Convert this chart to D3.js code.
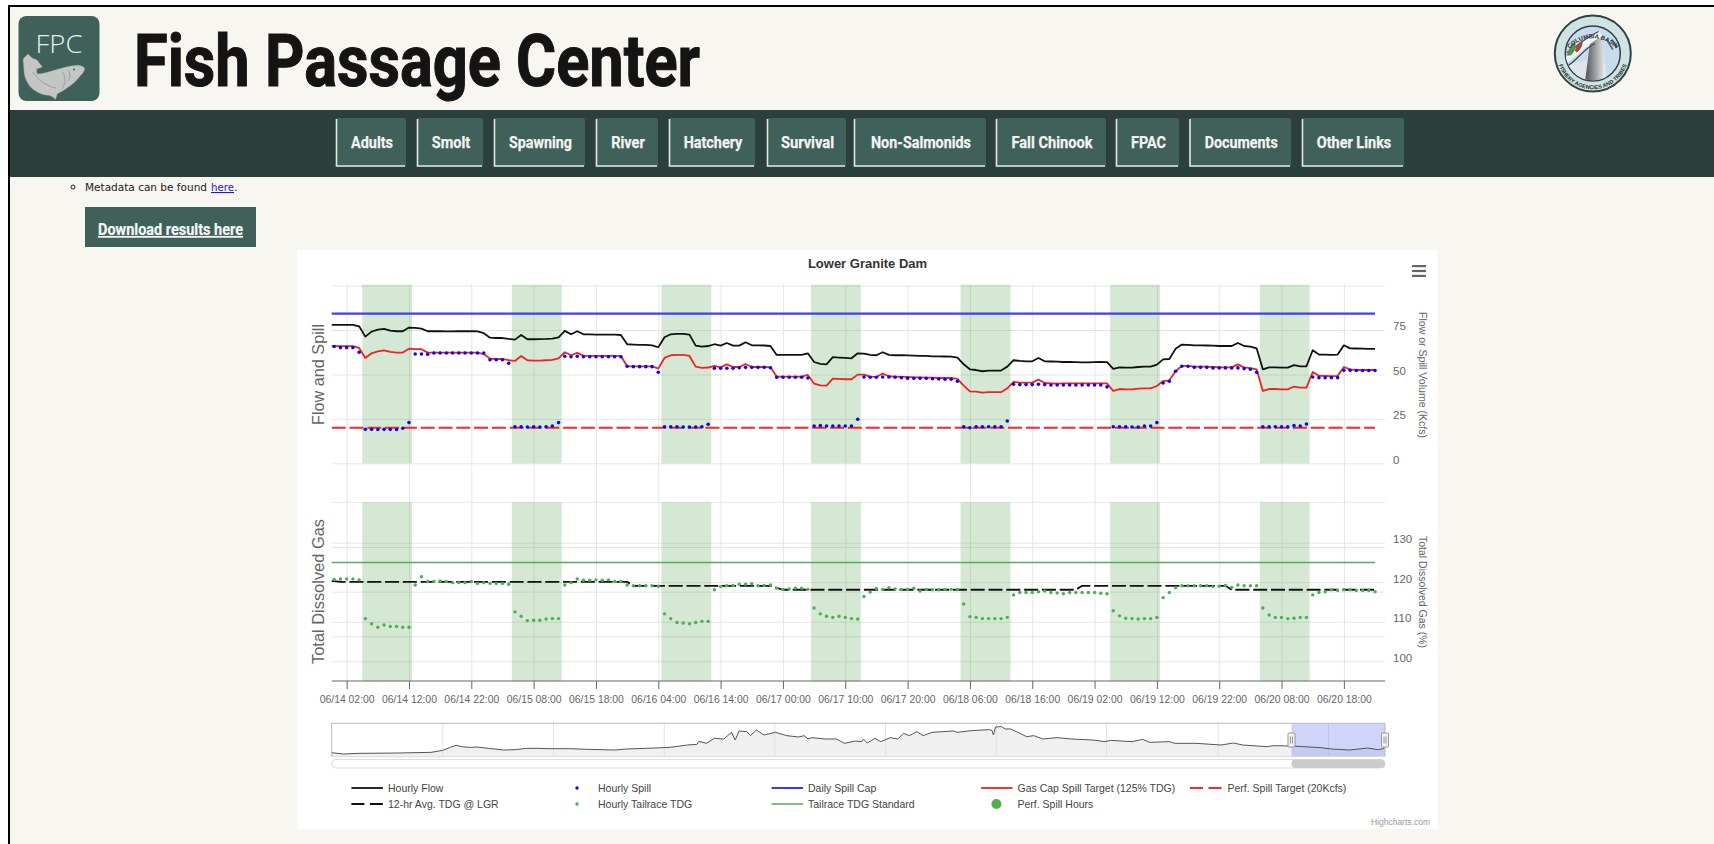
<!DOCTYPE html>
<html>

<head>
  <meta charset="utf-8">
  <title>Fish Passage Center - Lower Granite Dam</title>
  <style>
    html, body { margin: 0; padding: 0; background: #fff; overflow: hidden; }
    svg { display: block; }
    .axis .domain { display: none; }
  </style>
</head>

<body>
  <svg id="page" width="1714" height="844"></svg>
  <script src="https://d3js.org/d3.v7.min.js"></script>
  <script>
    // 1. data. Hourly series start at 06/14 00:00
    var chartTitle = "Lower Granite Dam";

    var hourlyFlow = [
      77.9, 77.9, 77.9, 77.9, 77.1, 71.3, 74.1, 75.2, 75.6, 74.7, 74.3, 74.3,
      76.4, 76.2, 75.8, 74.3, 74.3, 74.3, 74.2, 74.2, 74.3, 74.3, 74.3, 74.2,
      73.2, 70.7, 70.5, 70.5, 70.0, 69.6, 72.2, 69.8, 69.8, 69.9, 70.0, 70.2,
      70.9, 74.5, 72.6, 74.3, 72.6, 72.6, 72.4, 72.4, 72.4, 72.4, 72.2, 67.0,
      66.8, 66.6, 66.6, 66.4, 65.3, 70.9, 72.6, 72.8, 72.8, 72.4, 66.2, 65.7,
      66.0, 67.0, 66.2, 67.7, 66.2, 66.2, 68.1, 66.4, 66.4, 66.3, 66.0, 61.0,
      61.0, 61.0, 61.0, 61.0, 61.9, 57.0, 55.9, 55.7, 59.7, 59.5, 59.3, 59.1,
      61.9, 61.7, 61.0, 60.8, 62.5, 61.0, 60.8, 60.8, 60.7, 60.6, 60.5, 60.4,
      60.2, 60.2, 60.1, 60.0, 59.5, 55.7, 52.9, 52.5, 51.8, 52.2, 52.2, 52.2,
      54.4, 58.0, 57.6, 57.4, 57.4, 59.3, 57.4, 57.3, 57.2, 57.0, 57.0, 56.9,
      56.8, 56.8, 56.9, 57.0, 56.9, 53.1, 54.0, 53.8, 53.8, 54.2, 54.4, 54.4,
      55.5, 58.5, 58.7, 64.4, 66.8, 66.6, 66.4, 66.4, 66.3, 66.2, 66.0, 66.0,
      66.0, 67.7, 66.0, 65.7, 64.7, 52.9, 54.0, 54.0, 53.8, 53.8, 55.2, 54.6,
      54.6, 63.6, 61.2, 61.2, 61.0, 61.2, 66.4, 64.7, 64.6, 64.5, 64.4, 64.4
    ];

    var gasCapTarget = [
      65.9, 65.9, 65.9, 65.9, 64.9, 59.3, 61.9, 63.0, 63.6, 62.7, 62.3, 62.3,
      64.5, 64.3, 64.2, 62.3, 62.3, 62.3, 62.3, 62.3, 62.3, 62.3, 62.3, 62.3,
      61.5, 58.9, 58.7, 58.7, 58.0, 57.6, 60.4, 58.0, 57.8, 57.8, 58.0, 58.2,
      59.1, 62.5, 60.8, 62.1, 60.6, 60.4, 60.4, 60.4, 60.4, 60.4, 60.4, 54.6,
      54.6, 54.6, 54.6, 54.6, 53.3, 59.3, 60.8, 61.0, 61.0, 60.4, 54.4, 53.7,
      53.9, 54.8, 54.0, 55.7, 54.2, 54.2, 55.9, 54.2, 54.2, 54.2, 54.0, 48.8,
      48.8, 48.8, 48.8, 48.8, 49.7, 44.8, 43.9, 43.7, 47.7, 47.5, 47.3, 47.3,
      49.9, 49.9, 48.8, 48.6, 50.5, 49.0, 48.8, 48.6, 48.6, 48.4, 48.4, 48.2,
      48.2, 48.0, 48.0, 48.0, 47.5, 43.7, 40.5, 40.3, 39.8, 40.0, 40.0, 40.0,
      42.2, 45.8, 45.4, 45.4, 45.4, 47.1, 45.2, 45.0, 44.8, 45.0, 45.0, 45.0,
      45.0, 45.0, 45.0, 45.0, 45.0, 40.7, 41.8, 41.6, 41.6, 42.0, 42.2, 42.2,
      43.5, 46.3, 46.7, 51.8, 54.8, 54.8, 54.4, 54.4, 54.4, 54.2, 54.0, 54.0,
      54.0, 55.7, 54.0, 53.6, 52.9, 40.7, 41.8, 41.8, 41.6, 41.6, 43.2, 42.6,
      42.6, 51.4, 49.2, 49.2, 49.0, 49.2, 54.2, 52.9, 52.5, 52.5, 52.5, 52.5
    ];

    var hourlySpill = [
      65.7, 65.1, 65.1, 65.1, 62.5, 19.1, 19.1, 19.0, 19.1, 19.1, 19.0, 19.7,
      22.9, 61.5, 61.5, 61.3, 62.1, 62.1, 62.1, 62.1, 62.1, 62.1, 62.1, 62.1,
      62.1, 58.3, 58.3, 58.3, 56.3, 20.6, 20.6, 20.4, 20.6, 20.4, 20.6, 21.0,
      22.9, 60.2, 60.0, 60.2, 60.0, 60.0, 60.0, 60.0, 60.0, 60.0, 60.0, 54.6,
      54.4, 54.4, 54.4, 54.4, 51.2, 20.6, 20.6, 20.6, 20.4, 20.4, 20.4, 20.6,
      22.0, 53.5, 53.5, 53.5, 53.5, 53.8, 54.0, 54.0, 54.0, 54.0, 53.8, 48.4,
      48.4, 48.4, 48.4, 48.4, 48.0, 21.0, 21.2, 21.0, 21.0, 21.0, 21.0, 21.0,
      24.8, 48.6, 48.4, 48.4, 48.6, 48.6, 48.4, 48.2, 47.8, 47.8, 47.8, 47.8,
      47.6, 47.4, 47.3, 47.3, 46.2, 20.6, 20.0, 20.6, 20.6, 20.6, 20.6, 20.6,
      23.8, 44.5, 44.3, 44.3, 44.3, 44.5, 44.3, 44.1, 44.1, 44.1, 44.1, 44.1,
      44.1, 44.1, 44.1, 44.1, 43.0, 20.6, 20.6, 20.6, 20.4, 20.4, 21.0, 21.0,
      22.9, 45.2, 46.2, 51.8, 54.6, 54.6, 54.0, 54.0, 54.0, 53.7, 53.7, 53.7,
      53.7, 53.7, 53.3, 52.9, 51.2, 20.6, 20.6, 20.6, 20.6, 20.6, 21.2, 21.0,
      22.1, 48.6, 48.2, 48.2, 48.2, 48.2, 52.3, 52.3, 52.2, 52.2, 52.2, 52.2
    ];

    var tailraceTdg = [
      120.7, 120.8, 120.8, 120.8, 120.6, 110.8, 109.5, 108.6, 109.2, 108.8, 108.8, 108.6,
      108.6, 119.3, 121.4, 120.2, 120.2, 120.3, 120.2, 119.9, 119.9, 119.9, 120.2, 119.7,
      119.9, 119.7, 119.7, 119.7, 119.5, 112.5, 111.4, 110.3, 110.4, 110.4, 110.7, 110.8,
      110.8, 119.3, 119.9, 120.8, 120.5, 120.5, 120.6, 120.5, 120.6, 120.2, 120.2, 119.3,
      119.1, 119.1, 119.1, 119.1, 119.0, 112.0, 110.8, 109.8, 109.7, 109.5, 109.8, 110.1,
      110.1, 118.1, 118.9, 119.1, 119.2, 119.5, 119.5, 119.6, 119.1, 119.2, 119.3, 118.5,
      118.2, 118.3, 118.5, 118.5, 118.2, 113.5, 112.0, 111.4, 111.1, 111.4, 111.1, 110.8,
      110.7, 116.4, 117.5, 118.4, 118.2, 118.6, 118.3, 118.2, 118.2, 118.5, 117.8, 118.2,
      118.1, 118.1, 118.2, 118.2, 118.2, 114.5, 111.3, 111.1, 110.8, 110.8, 110.8, 110.8,
      111.1, 116.8, 117.4, 117.4, 117.4, 117.6, 117.8, 117.4, 117.3, 117.1, 117.4, 117.4,
      117.4, 117.4, 117.4, 117.2, 117.1, 112.8, 111.5, 110.9, 110.8, 110.7, 110.8, 110.8,
      111.1, 116.1, 117.4, 118.6, 119.1, 119.1, 119.1, 119.1, 119.1, 118.9, 119.0, 119.2,
      118.7, 119.3, 119.1, 119.1, 119.1, 113.5, 111.7, 111.1, 111.1, 110.8, 110.9, 111.1,
      111.1, 116.8, 117.4, 117.6, 118.1, 117.9, 118.1, 118.1, 117.9, 117.9, 117.9, 117.6
    ];

    var avgTdg12hr = [
      120.3, 120.1, 120.1, 120.1, 120.1, 120.1, 120.1, 120.1, 120.1, 120.1, 120.1, 120.1,
      120.1, 120.1, 120.1, 120.1, 120.1, 120.1, 120.1, 120.1, 120.1, 120.1, 120.1, 120.1,
      120.1, 120.1, 120.1, 120.1, 120.1, 120.1, 120.1, 120.1, 120.1, 120.1, 120.1, 120.1,
      120.1, 120.1, 120.1, 120.1, 120.1, 120.1, 120.1, 120.1, 120.1, 120.1, 120.1, 120.1,
      119.1, 119.1, 119.1, 119.1, 119.1, 119.1, 119.1, 119.1, 119.1, 119.1, 119.1, 119.1,
      119.1, 119.1, 119.1, 119.1, 119.1, 119.1, 119.1, 119.1, 119.1, 119.1, 119.1, 118.6,
      118.1, 118.1, 118.1, 118.1, 118.1, 118.1, 118.1, 118.1, 118.1, 118.1, 118.1, 118.1,
      118.1, 118.1, 118.1, 118.1, 118.1, 118.1, 118.1, 118.1, 118.1, 118.1, 118.1, 118.1,
      118.1, 118.1, 118.1, 118.1, 118.1, 118.1, 118.1, 118.1, 118.1, 118.1, 118.1, 118.1,
      118.1, 118.1, 118.1, 118.1, 118.1, 118.1, 118.1, 118.1, 118.1, 118.1, 118.1, 118.1,
      119.1, 119.1, 119.1, 119.1, 119.1, 119.1, 119.1, 119.1, 119.1, 119.1, 119.1, 119.1,
      119.1, 119.1, 119.1, 119.1, 119.1, 119.1, 119.1, 119.1, 119.1, 119.1, 119.1, 119.1,
      118.1, 118.1, 118.1, 118.1, 118.1, 118.1, 118.1, 118.1, 118.1, 118.1, 118.1, 118.1,
      118.1, 118.1, 118.1, 118.1, 118.1, 118.1, 118.1, 118.1, 118.1, 118.1, 118.1, 118.1
    ];

    var dailySpillCap = 84.2;
    var perfSpillTarget = 20;
    var tdgStandard = 125;

    // perf. spill windows, in hours since 06/14 00:00
    var perfStart = [4.5, 28.5, 52.5, 76.5, 100.5, 124.5, 148.5];
    var perfEnd = [12.5, 36.5, 60.5, 84.5, 108.5, 132.5, 156.5];

    var xTickHours = [2, 12, 22, 32, 42, 52, 62, 72, 82, 92, 102, 112, 122, 132, 142, 152, 162];
    var xTickLabels = ["06/14 02:00", "06/14 12:00", "06/14 22:00", "06/15 08:00", "06/15 18:00",
      "06/16 04:00", "06/16 14:00", "06/17 00:00", "06/17 10:00", "06/17 20:00", "06/18 06:00",
      "06/18 16:00", "06/19 02:00", "06/19 12:00", "06/19 22:00", "06/20 08:00", "06/20 18:00"];

    // navigator: season long flow (days since season start, flow)
    var navDays = [0, 0.86, 2.02, 4.9, 7.49, 8.35, 8.93, 9.36, 9.94, 10.51, 10.94, 11.81, 12.96, 13.82,
      14.69, 15.55, 16.42, 17.85, 19.3, 21.31, 22.18, 23.62, 25.49, 26.78, 27.5, 27.65, 28.22, 28.8,
      29.52, 30.1, 30.38, 30.67, 31.25, 31.53, 31.97, 32.54, 33.41, 34.27, 35.14, 35.57, 35.86, 36.14,
      37.15, 38.0, 38.6, 39.45, 39.9, 40.03, 40.32, 40.9, 41.33, 42.05, 42.62, 43.05, 43.49, 44.06,
      44.53, 45.2, 46.81, 47.08, 48.15, 49.5, 49.71, 49.82, 49.98, 50.44, 50.71, 51.11, 51.65, 52.32,
      52.86, 53.53, 54.6, 55.68, 57.29, 58.23, 58.63, 60.25, 61.05, 61.59, 63.07, 63.47, 65.08, 66.96,
      67.9, 68.58, 70.46, 70.86, 72.26, 74.49, 75.29, 76.64, 77.98, 78.79, 79.27];
    var navFlow = [38, 30, 34, 36, 40, 52, 70, 82, 72, 70, 72, 64, 54, 56,
      64, 64, 62, 62, 58, 54, 60, 64, 70, 84, 88, 106, 94, 124,
      120, 160, 114, 168, 164, 140, 174, 144, 160, 140, 132, 140, 120, 128,
      120, 120, 94, 108, 104, 120, 96, 124, 104, 128, 120, 154, 140, 164,
      140, 160, 168, 160, 170, 176, 172, 144, 192, 194, 180, 180, 160, 134,
      140, 120, 128, 120, 114, 104, 112, 104, 118, 100, 104, 94, 94, 84,
      96, 84, 74, 80, 78, 68, 60, 54, 66, 56, 64];
    var navGridDays = [8.33, 16.66, 25, 33.33, 41.66, 50, 58.3, 66.7, 75];
    var navRangeDays = [72.26, 79.3];

    var navItems = ["Adults", "Smolt", "Spawning", "River", "Hatchery", "Survival",
      "Non-Salmonids", "Fall Chinook", "FPAC", "Documents", "Other Links"];

    // 2. page furniture
    var svg = d3.select("#page");
    var defs = svg.append("defs");
    var condensed = "Roboto, sans-serif";
    var chartFont = "'Liberation Sans', Arial, sans-serif";

    svg.append("rect").attr("x", 9).attr("y", 6).attr("width", 1705).attr("height", 838).attr("fill", "#f7f6f0");
    svg.append("line").attr("x1", 8).attr("x2", 1714).attr("y1", 6).attr("y2", 6).attr("stroke", "#000").attr("stroke-width", 2);
    svg.append("line").attr("x1", 9).attr("x2", 9).attr("y1", 5).attr("y2", 844).attr("stroke", "#000").attr("stroke-width", 2);

    // logo
    var logo = svg.append("g");
    logo.append("rect").attr("x", 18.5).attr("y", 16).attr("width", 81).attr("height", 85).attr("rx", 8).attr("fill", "#3f6159");
    logo.append("text").text("FPC").attr("x", 35.5).attr("y", 53).attr("fill", "#e8eeec")
      .attr("font-family", "'Open Sans', sans-serif").attr("font-weight", 300).attr("font-size", 25)
      .attr("textLength", 47).attr("lengthAdjust", "spacingAndGlyphs");
    logo.append("path")
      .attr("d", "M28 54 L32 58 L37 60 L42.3 67 L36.5 69 L37 74 C47 74 62 66.5 77 65.3 C81 65.5 84 66.5 84.7 68.7 C84 72 82 74 80.7 75.3 C77 80 74 83 70.7 85.3 C66 89 62 91.5 57.3 93.7 L55.7 99.3 L52 96.5 L49 95.3 C44 95 40.5 94 37.3 92 C32 89 29 86 27.3 82 C25 78 24 74 24 70.3 C24 66 23 62 23.3 58.7 Z")
      .attr("fill", "#c4c6c4").attr("stroke", "#a5aaa7").attr("stroke-width", 0.5);
    logo.append("path").attr("d", "M62 72 C66 76 66 82 62 89 M68 70 C71 74 70 78 68 81 M33 72 C38 80 46 86 56 88")
      .attr("fill", "none").attr("stroke", "#8f9592").attr("stroke-width", 0.8);
    logo.append("circle").attr("cx", 74).attr("cy", 69.5).attr("r", 1).attr("fill", "#555");

    svg.append("text").text("Fish Passage Center").attr("x", 134).attr("y", 86)
      .attr("font-family", condensed).attr("font-weight", 700).attr("font-size", 72).attr("fill", "#141414")
      .attr("stroke", "#141414").attr("stroke-width", 1.1)
      .attr("textLength", 566).attr("lengthAdjust", "spacingAndGlyphs");

    // agency seal
    var seal = svg.append("g").attr("transform", "translate(1592.8,53.5)");
    var damGrad = defs.append("linearGradient").attr("id", "damGrad").attr("x1", 0).attr("x2", 1).attr("y1", 0).attr("y2", 0);
    damGrad.append("stop").attr("offset", "0%").attr("stop-color", "#4c5052");
    damGrad.append("stop").attr("offset", "55%").attr("stop-color", "#a8abac");
    damGrad.append("stop").attr("offset", "100%").attr("stop-color", "#fbfcfc");
    defs.append("clipPath").attr("id", "sealClip").append("circle").attr("r", 27);
    seal.append("circle").attr("r", 38).attr("fill", "#cfe2e4").attr("stroke", "#2f4144").attr("stroke-width", 2);
    seal.append("circle").attr("r", 27.5).attr("fill", "#c7dcee").attr("stroke", "#2f4144").attr("stroke-width", 1.5);
    var sealInner = seal.append("g").attr("clip-path", "url(#sealClip)");
    sealInner.append("path").attr("d", "M-30 -10 L-8 -30 L-30 -30 Z").attr("fill", "#dfe9ee");
    sealInner.append("path").attr("d", "M-30 12 L-28 30 L-6 30 L-2 6 Z").attr("fill", "#dfe6ea");
    sealInner.append("path").attr("d", "M-2 -17 L9 -17 L14 30 L-8 30 Z").attr("fill", "url(#damGrad)");
    sealInner.append("path").attr("d", "M-28 8 C-18 0 -8 -12 8 -20").attr("fill", "none").attr("stroke", "#f4f6f6").attr("stroke-width", 6);
    sealInner.append("path").attr("d", "M-28 14 C-16 8 -10 -4 2 -10 M-26 -1 C-16 -6 -8 -16 6 -22").attr("fill", "none").attr("stroke", "#3e4649").attr("stroke-width", 1.2);
    sealInner.append("path").attr("d", "M-26 2 C-24 -4 -22 -10 -18 -12 C-16 -6 -18 -2 -22 2 Z").attr("fill", "#5c8f52");
    sealInner.append("path").attr("d", "M-18 -3 C-16 -9 -13 -12 -10 -13 C-10 -8 -13 -3 -16 -1 Z").attr("fill", "#a8453f");
    sealInner.append("path").attr("d", "M14 -14 L20 -4 M19 -14 L24 -6").attr("stroke", "#5a6468").attr("stroke-width", 1.6);
    seal.append("path").attr("id", "sealTop").attr("d", "M-30 8 A31 31 0 0 1 30 8").attr("fill", "none");
    seal.append("path").attr("id", "sealBot").attr("d", "M-34.5 10 A36 36 0 0 0 34.5 10").attr("fill", "none");
    seal.append("text").attr("font-size", 6).attr("font-weight", 700).attr("fill", "#263032").attr("font-family", chartFont)
      .append("textPath").attr("href", "#sealTop").attr("startOffset", "50%").attr("text-anchor", "middle").text("COLUMBIA BASIN");
    seal.append("text").attr("font-size", 5.5).attr("font-weight", 700).attr("fill", "#263032").attr("font-family", chartFont)
      .append("textPath").attr("href", "#sealBot").attr("startOffset", "50%").attr("text-anchor", "middle").text("FISHERY AGENCIES AND TRIBES");

    // nav bar
    var navBoxLeft = [336, 417, 494, 596, 669, 767, 854, 996, 1116, 1189.5, 1302];
    var navBoxRight = [406, 483, 585, 658, 755, 846, 986, 1106, 1179, 1291, 1404];
    var navTextLen = [42, 38.4, 63, 33.5, 58.7, 53.2, 100, 81, 35, 73, 74.6];

    svg.append("rect").attr("x", 10).attr("y", 110).attr("width", 1704).attr("height", 67).attr("fill", "#2b3f3b");
    var navBtn = svg.selectAll(".nav-btn").data(navItems).enter().append("g").attr("class", "nav-btn");
    navBtn.append("rect")
      .attr("x", function (d, i) { return navBoxLeft[i]; })
      .attr("y", 118)
      .attr("width", function (d, i) { return navBoxRight[i] - navBoxLeft[i]; })
      .attr("height", 49).attr("rx", 2).attr("fill", "#3f6159");
    navBtn.append("path")
      .attr("d", function (d, i) { return "M" + (navBoxLeft[i] + 0.5) + " 119 V166 H" + (navBoxRight[i] - 1); })
      .attr("fill", "none").attr("stroke", "#e4e6e4").attr("stroke-width", 1.6);
    navBtn.append("text").text(function (d) { return d; })
      .attr("x", function (d, i) { return (navBoxLeft[i] + navBoxRight[i]) / 2 + 1; })
      .attr("y", 147.5).attr("text-anchor", "middle").attr("fill", "#f2f4f2")
      .attr("stroke", "#f2f4f2").attr("stroke-width", 0.25)
      .attr("font-family", condensed).attr("font-weight", 700).attr("font-size", 17)
      .attr("textLength", function (d, i) { return navTextLen[i]; })
      .attr("lengthAdjust", "spacingAndGlyphs");

    // metadata line + download button
    var bodyFont = "'DejaVu Sans', sans-serif";
    svg.append("circle").attr("cx", 73).attr("cy", 187).attr("r", 2).attr("fill", "none").attr("stroke", "#222");
    svg.append("text").text("Metadata can be found").attr("x", 85).attr("y", 191)
      .attr("font-family", bodyFont).attr("font-size", 11).attr("fill", "#222")
      .attr("textLength", 122).attr("lengthAdjust", "spacingAndGlyphs");
    svg.append("text").text("here").attr("x", 211).attr("y", 191)
      .attr("font-family", bodyFont).attr("font-size", 11).attr("fill", "#1a1ae0")
      .attr("text-decoration", "underline").attr("textLength", 23).attr("lengthAdjust", "spacingAndGlyphs");
    svg.append("text").text(".").attr("x", 234).attr("y", 191)
      .attr("font-family", bodyFont).attr("font-size", 11).attr("fill", "#222");

    svg.append("rect").attr("x", 85).attr("y", 207).attr("width", 171).attr("height", 40).attr("fill", "#3f6159");
    svg.append("text").text("Download results here").attr("x", 98).attr("y", 235)
      .attr("font-family", condensed).attr("font-weight", 700).attr("font-size", 17).attr("fill", "#f4f6f4")
      .attr("stroke", "#f4f6f4").attr("stroke-width", 0.2)
      .attr("text-decoration", "underline").attr("textLength", 145).attr("lengthAdjust", "spacingAndGlyphs");

    // 3. chart box and scales
    svg.append("rect").attr("x", 297).attr("y", 250).attr("width", 1140.5).attr("height", 579).attr("fill", "#fff");

    var plotLeft = 331.7, plotRight = 1385;
    var top1 = 284.7, bottom1 = 463.3, top2 = 502.3, bottom2 = 681;
    var lastHour = hourlyFlow.length - 1;
    var hours = d3.range(hourlyFlow.length);

    var x = d3.scaleLinear().domain([-0.4, 168.6]).range([plotLeft, plotRight]);
    var yFlow = d3.scaleLinear().domain([0, 100]).range([bottom1, 285.6]);
    var yTdg = d3.scaleLinear().domain([100, 130]).range([661.3, 542.7]);
    var yHidden = d3.scaleLinear().domain([0, 100]).range([bottom2, top2]);

    var gridColor = "#e6e6e6";
    var plot = svg.append("g");

    function styleGrid(g) {
      g.attr("class", "axis");
      g.selectAll(".tick line").attr("stroke", gridColor);
    }

    // vertical grid
    plot.append("g").attr("transform", "translate(0," + bottom2 + ")")
      .call(d3.axisBottom(x).tickValues(xTickHours).tickSize(-(bottom2 - top1)).tickFormat(""))
      .call(styleGrid);

    // horizontal grids, secondary hidden axis in the lower pane too
    plot.append("g").attr("transform", "translate(" + plotLeft + ",0)")
      .call(d3.axisLeft(yHidden).tickValues([25, 50, 75]).tickSize(-(plotRight - plotLeft)).tickFormat(""))
      .call(styleGrid);

    var flowAxis = plot.append("g").attr("transform", "translate(" + plotRight + ",0)")
      .call(d3.axisRight(yFlow).tickValues([0, 25, 50, 75, 100]).tickSize(-(plotRight - plotLeft)).tickPadding(8)
        .tickFormat(function (d) { return d === 100 ? "" : d; }))
      .call(styleGrid);
    var tdgAxis = plot.append("g").attr("transform", "translate(" + plotRight + ",0)")
      .call(d3.axisRight(yTdg).tickValues([100, 110, 120, 130]).tickSize(-(plotRight - plotLeft)).tickPadding(8))
      .call(styleGrid);
    plot.append("line").attr("x1", plotLeft).attr("x2", plotRight).attr("y1", top2).attr("y2", top2).attr("stroke", gridColor);

    [flowAxis, tdgAxis].forEach(function (a) {
      a.selectAll("text")
        .attr("x", 8).attr("dy", "-0.02em")
        .attr("font-family", chartFont).attr("font-size", 11.5).attr("fill", "#666");
    });

    // perf. spill bands in both panes
    var bandColor = "rgba(76,160,76,0.24)";
    [[top1, bottom1], [top2, bottom2]].forEach(function (pane) {
      plot.append("g").selectAll("rect").data(perfStart).enter().append("rect")
        .attr("x", function (d) { return x(d); })
        .attr("width", function (d, i) { return x(perfEnd[i]) - x(d); })
        .attr("y", pane[0]).attr("height", pane[1] - pane[0])
        .attr("fill", bandColor);
    });

    // x axis with labels
    var xAxis = plot.append("g").attr("class", "axis").attr("transform", "translate(0," + bottom2 + ")")
      .call(d3.axisBottom(x).tickValues(xTickHours).tickSize(8).tickPadding(7)
        .tickFormat(function (d, i) { return xTickLabels[i]; }));
    xAxis.selectAll(".tick line").attr("stroke", "#666");
    xAxis.selectAll("text").attr("font-family", chartFont).attr("font-size", 10.4).attr("fill", "#666");
    xAxis.append("line").attr("x1", plotLeft).attr("x2", plotRight).attr("stroke", "#666");

    // 4. series
    function drawLine(hrs, values, yScale, color, width, dash) {
      var pts = hrs.map(function (h, i) { return [h, values[i]]; });
      var line = d3.line().x(function (d) { return x(d[0]); }).y(function (d) { return yScale(d[1]); });
      plot.append("path").datum(pts).attr("d", line)
        .attr("fill", "none").attr("stroke", color).attr("stroke-width", width)
        .attr("stroke-linejoin", "round").attr("stroke-dasharray", dash || null);
    }

    function drawDots(values, yScale, color, r) {
      plot.append("g").selectAll("circle").data(values).enter().append("circle")
        .attr("cx", function (d, i) { return x(hours[i]); })
        .attr("cy", function (d) { return yScale(d); })
        .attr("r", r).attr("fill", color);
    }

    var lineEnds = [-0.4, lastHour];
    var longDash = "14,3.8";

    drawLine(lineEnds, [dailySpillCap, dailySpillCap], yFlow, "#3f3ff0", 2.2);
    drawLine([-0.4].concat(hours), [hourlyFlow[0]].concat(hourlyFlow), yFlow, "#111", 1.8);
    drawLine([-0.4].concat(hours), [gasCapTarget[0]].concat(gasCapTarget), yFlow, "#f02222", 1.8);
    drawLine(lineEnds, [perfSpillTarget, perfSpillTarget], yFlow, "#f5282a", 2, longDash);
    drawDots(hourlySpill, yFlow, "#0a0af0", 1.8);

    drawLine(lineEnds, [tdgStandard, tdgStandard], yTdg, "#55ad55", 1.6);
    drawLine([-0.4].concat(hours), [avgTdg12hr[0]].concat(avgTdg12hr), yTdg, "#111", 1.8, longDash);
    drawDots(tailraceTdg, yTdg, "#4caf50", 1.7);

    // 5. titles
    svg.append("text").text(chartTitle).attr("x", 867.5).attr("y", 268).attr("text-anchor", "middle")
      .attr("font-family", chartFont).attr("font-weight", 700).attr("font-size", 13).attr("fill", "#333");

    function vText(label, cx, cy, angle, size, len) {
      svg.append("text").text(label)
        .attr("transform", "translate(" + cx + "," + cy + ") rotate(" + angle + ")")
        .attr("text-anchor", "middle").attr("dy", "0.35em")
        .attr("font-family", chartFont).attr("font-size", size).attr("fill", "#666")
        .attr("textLength", len).attr("lengthAdjust", "spacingAndGlyphs");
    }
    vText("Flow and Spill", 318, 374.5, -90, 16, 101);
    vText("Total Dissolved Gas", 318, 591.5, -90, 16, 145);
    vText("Flow or Spill Volume (Kcfs)", 1422.5, 375, 90, 11, 126);
    vText("Total Dissolved Gas (%)", 1422.5, 592, 90, 11, 112);

    // exporting menu icon
    svg.append("g").selectAll("rect").data([0, 1, 2]).enter().append("rect")
      .attr("x", 1412).attr("y", function (d) { return 265 + d * 4.9; })
      .attr("width", 14).attr("height", 2.2).attr("fill", "#666");

    // 6. navigator
    var navTop = 723.3, navBottom = 756.7;
    var xNav = d3.scaleLinear().domain([0, 79.3]).range([plotLeft, plotRight]);
    var yNav = d3.scaleLinear().domain([14, 214]).range([navBottom, navTop]);
    var nav = svg.append("g");

    var navPts = navDays.map(function (d, i) { return [d, navFlow[i]]; });
    nav.append("path").datum(navPts)
      .attr("d", d3.area().x(function (d) { return xNav(d[0]); }).y0(navBottom).y1(function (d) { return yNav(d[1]); }))
      .attr("fill", "#f0f0f0");
    nav.append("g").attr("transform", "translate(0," + navBottom + ")").attr("class", "axis")
      .call(d3.axisBottom(xNav).tickValues(navGridDays).tickSize(-(navBottom - navTop)).tickFormat(""))
      .call(function (g) { g.selectAll(".tick line").attr("stroke", "#e2e2e2"); });
    nav.append("rect").attr("x", xNav(navRangeDays[0])).attr("y", navTop)
      .attr("width", xNav(navRangeDays[1]) - xNav(navRangeDays[0])).attr("height", navBottom - navTop)
      .attr("fill", "rgba(102,120,240,0.32)");
    nav.append("path").datum(navPts)
      .attr("d", d3.line().x(function (d) { return xNav(d[0]); }).y(function (d) { return yNav(d[1]); }))
      .attr("fill", "none").attr("stroke", "#555").attr("stroke-width", 1);
    nav.append("path")
      .attr("d", "M" + plotLeft + " " + navTop + " H" + plotRight + " V" + navBottom + " M" + plotLeft + " " + navTop + " V" + navBottom)
      .attr("fill", "none").attr("stroke", "#bbb");
    nav.append("line").attr("x1", plotLeft).attr("x2", plotRight).attr("y1", navBottom).attr("y2", navBottom).attr("stroke", "#ddd");

    // handles
    nav.selectAll(".handle").data(navRangeDays).enter().append("g").attr("class", "handle")
      .attr("transform", function (d) { return "translate(" + xNav(d) + ",740)"; })
      .each(function () {
        var h = d3.select(this);
        h.append("rect").attr("x", -3.5).attr("y", -7).attr("width", 7).attr("height", 14).attr("rx", 1)
          .attr("fill", "#f2f2f2").attr("stroke", "#999");
        h.append("path").attr("d", "M-1 -3.5 V3.5 M1 -3.5 V3.5").attr("stroke", "#999");
      });

    // scrollbar
    nav.append("rect").attr("x", plotLeft).attr("y", 759.5).attr("width", plotRight - plotLeft).attr("height", 8.5)
      .attr("rx", 4).attr("fill", "#fff").attr("stroke", "#ddd");
    nav.append("rect").attr("x", xNav(navRangeDays[0])).attr("y", 759.5)
      .attr("width", xNav(navRangeDays[1]) - xNav(navRangeDays[0])).attr("height", 8.5)
      .attr("rx", 4).attr("fill", "#cccccc");

    // 7. legend
    var legendNames = ["Hourly Flow", "Hourly Spill", "Daily Spill Cap", "Gas Cap Spill Target (125% TDG)", "Perf. Spill Target (20Kcfs)",
      "12-hr Avg. TDG @ LGR", "Hourly Tailrace TDG", "Tailrace TDG Standard", "Perf. Spill Hours"];
    var legendKinds = ["line", "dot", "line", "line", "dash", "dash", "dot", "line", "disc"];
    var legendColors = ["#111", "#0a0af0", "#3a3af0", "#f02222", "#f5282a", "#111", "#4caf50", "#55ad55", "#4caf50"];
    var legendSymbolX = [351.4, 577, 771.6, 981, 1190, 351.4, 577, 771.6, 996.4];
    var legendTextX = [388, 598, 808, 1017.5, 1227.5, 388, 598, 808, 1017.5];
    var legendRowY = [788, 788, 788, 788, 788, 804, 804, 804, 804];

    var legend = svg.append("g").selectAll("g").data(legendNames).enter().append("g")
      .attr("transform", function (d, i) { return "translate(0," + legendRowY[i] + ")"; });
    legend.each(function (d, i) {
      var g = d3.select(this), kind = legendKinds[i], sx = legendSymbolX[i];
      if (kind === "dot" || kind === "disc") {
        g.append("circle").attr("cx", sx).attr("r", kind === "disc" ? 5 : 1.7).attr("fill", legendColors[i]);
      } else {
        g.append("line").attr("x1", sx).attr("x2", sx + 31.5)
          .attr("stroke", legendColors[i]).attr("stroke-width", i === 7 ? 1.4 : 1.8)
          .attr("stroke-dasharray", kind === "dash" ? "13,5.5" : null);
      }
      g.append("text").text(d).attr("x", legendTextX[i]).attr("y", 3.8)
        .attr("font-family", chartFont).attr("font-size", 10.5).attr("fill", "#444");
    });

    svg.append("text").text("Highcharts.com").attr("x", 1430).attr("y", 825).attr("text-anchor", "end")
      .attr("font-family", chartFont).attr("font-size", 8.5).attr("fill", "#999");
  </script>
</body>

</html>
